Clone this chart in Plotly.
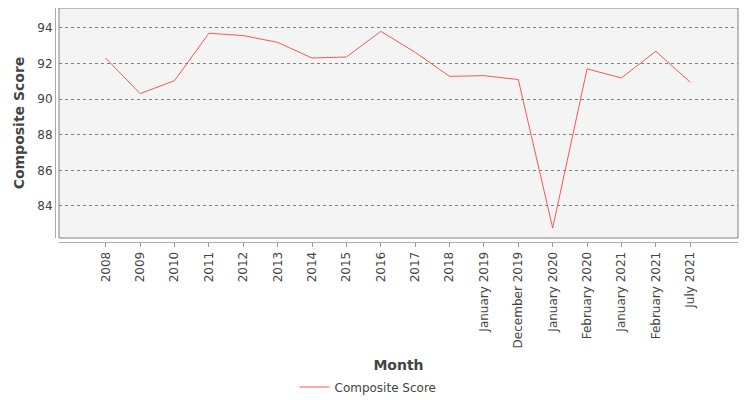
import plotly.graph_objects as go

months = ['2008', '2009', '2010', '2011', '2012', '2013', '2014', '2015', '2016',
          '2017', '2018', 'January 2019', 'December 2019', 'January 2020',
          'February 2020', 'January 2021', 'February 2021', 'July 2021']
composite_score = [92.30, 90.31, 91.04, 93.70, 93.57, 93.19, 92.31, 92.37, 93.81,
                   92.63, 91.28, 91.32, 91.10, 82.76, 91.70, 91.19, 92.69, 90.95]

# page body has an 8px margin, so the figure is sized to fit inside the window
W, H = 742, 392
ml, mr, mt, mb = 47, 12, 0, 158
pw = W - ml - mr
ph = H - mt - mb
gap = 4

fig = go.Figure()

fig.add_trace(go.Scatter(
    x=months,
    y=composite_score,
    mode='lines',
    line=dict(color='#ff5555', width=1),
    name='Composite Score')
    )

# plot border
fig.add_shape(type='rect', xref='x domain', yref='y domain', x0=0, x1=1, y0=0, y1=1,
              line=dict(color='#808080', width=1), layer='above')

fig.update_layout(
    width=W, height=H,
    margin=dict(l=ml, r=mr, t=mt, b=mb, autoexpand=False),
    paper_bgcolor='white',
    plot_bgcolor='#f4f4f4',
    font=dict(family='DejaVu Sans', size=12, color='#444444'),
    showlegend=True,
    legend=dict(orientation='h', x=(360 - ml) / pw, xanchor='center',
                y=(mt + ph - 379) / ph, yanchor='middle',
                font=dict(size=12, color='#444444')),
    xaxis=dict(
        domain=[gap / pw, 1],
        anchor='free', position=0,
        type='category',
        range=[-1.36, 18.39],
        tickangle=-90,
        ticks='outside', ticklen=4, tickcolor='#999999',
        showline=True, linecolor='#aaaaaa', linewidth=1,
        showgrid=False, zeroline=False, automargin=False,
        title=dict(text='<b>Month</b>', font=dict(size=14, color='#444444'), standoff=12),
    ),
    yaxis=dict(
        domain=[gap / ph, 1],
        anchor='free', position=0,
        range=[82.2, 95.12],
        tickvals=[84, 86, 88, 90, 92, 94],
        ticks='', showline=True, linecolor='#aaaaaa', linewidth=1,
        showgrid=True, gridcolor='#808080', gridwidth=0.7, griddash='dot',
        zeroline=False, automargin=False,
        title=dict(text='<b>Composite Score</b>', font=dict(size=14, color='#444444'), standoff=8),
    ),
)

fig.write_html('out.html')
